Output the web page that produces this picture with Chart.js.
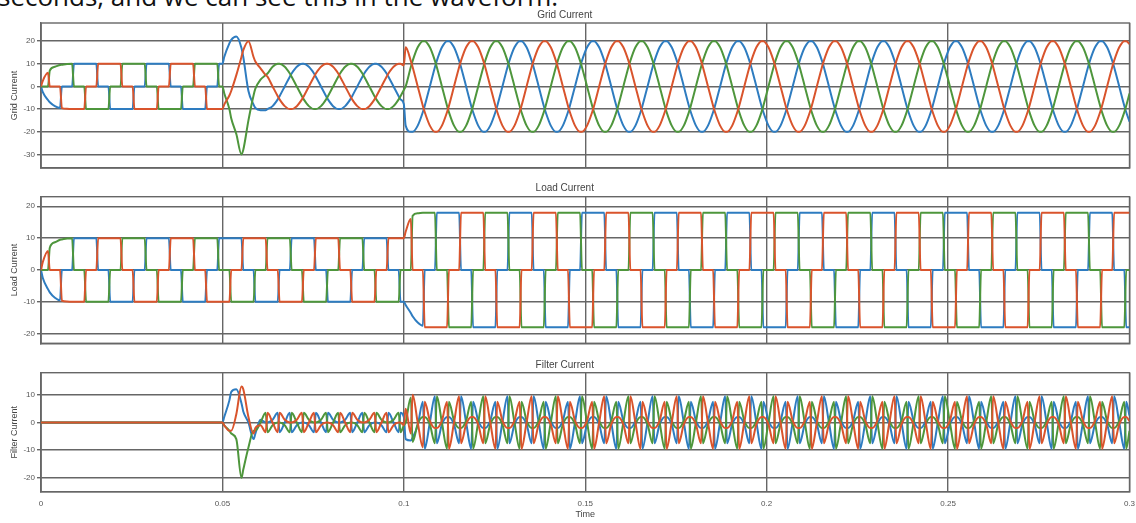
<!DOCTYPE html>
<html><head><meta charset="utf-8">
<script src="https://cdn.jsdelivr.net/npm/chart.js@4.4.1/dist/chart.umd.min.js"></script>
<style>
html,body{margin:0;padding:0;background:#fff;overflow:hidden;width:1136px;height:523px;}
.box{position:absolute;left:0;width:1136px;}
#caption{position:absolute;left:-2px;top:-17px;font-family:'Open Sans',sans-serif;font-size:26px;line-height:26px;color:#111;white-space:nowrap;}
</style></head><body>
<div id="caption">seconds, and we can see this in the waveform.</div>
<div class="box" style="top:0;height:172px"><canvas id="c1"></canvas></div>
<div class="box" style="top:172px;height:176px"><canvas id="c2"></canvas></div>
<div class="box" style="top:348px;height:175px"><canvas id="c3"></canvas></div>
<script>
// ---- axis ticks ----
const xTickValues = [0, 50, 100, 150, 200, 250, 300];           // ms
const xTickLabels = ['0', '0.05', '0.1', '0.15', '0.2', '0.25', '0.3'];
const gridYTicks = [-30, -20, -10, 0, 10, 20];
const loadYTicks = [-20, -10, 0, 10, 20];
const filterYTicks = [-20, -10, 0, 10];

// ---- sample instants (ms) ----
const timeMs = [
0, 0.5,1.92,2.42,3.83,5.25,5.75,7.17,8.58,9.08,10.5,11.92,12.42,13.83,15.25,15.75,17.17,18.58,19.08,
20.5,21.92,22.42,23.83,25.25,25.75,27.17,28.58,29.08,30.5,31.92,32.42,33.83,35.25,35.75,37.17,38.58,39.08,
40.5,41.92,42.42,43.83,45.25,45.75,47.17,48.58,49.08,50,50.5,51.92,52.42,53.83,55.25,55.75,57.17,58.58,59.08,
60.5,61.92,62.42,63.83,65.25,65.75,67.17,68.58,69.08,70.5,71.92,72.42,73.83,75.25,75.75,77.17,78.58,79.08,
80.5,81.92,82.42,83.83,85.25,85.75,87.17,88.58,89.08,90.5,91.92,92.42,93.83,95.25,95.75,97.17,98.58,99.08,100,
100.5,101.92,102.42,103.83,105.25,105.75,107.17,108.58,109.08,110.5,111.92,112.42,113.83,115.25,115.75,117.17,118.58,119.08,
120.5,121.92,122.42,123.83,125.25,125.75,127.17,128.58,129.08,130.5,131.92,132.42,133.83,135.25,135.75,137.17,138.58,139.08,
140.5,141.92,142.42,143.83,145.25,145.75,147.17,148.58,149.08,150.5,151.92,152.42,153.83,155.25,155.75,157.17,158.58,159.08,
160.5,161.92,162.42,163.83,165.25,165.75,167.17,168.58,169.08,170.5,171.92,172.42,173.83,175.25,175.75,177.17,178.58,179.08,
180.5,181.92,182.42,183.83,185.25,185.75,187.17,188.58,189.08,190.5,191.92,192.42,193.83,195.25,195.75,197.17,198.58,199.08,
200.5,201.92,202.42,203.83,205.25,205.75,207.17,208.58,209.08,210.5,211.92,212.42,213.83,215.25,215.75,217.17,218.58,219.08,
220.5,221.92,222.42,223.83,225.25,225.75,227.17,228.58,229.08,230.5,231.92,232.42,233.83,235.25,235.75,237.17,238.58,239.08,
240.5,241.92,242.42,243.83,245.25,245.75,247.17,248.58,249.08,250.5,251.92,252.42,253.83,255.25,255.75,257.17,258.58,259.08,
260.5,261.92,262.42,263.83,265.25,265.75,267.17,268.58,269.08,270.5,271.92,272.42,273.83,275.25,275.75,277.17,278.58,279.08,
280.5,281.92,282.42,283.83,285.25,285.75,287.17,288.58,289.08,290.5,291.92,292.42,293.83,295.25,295.75,297.17,298.58,299.08,300
];

// ---- Grid Current ----
const gridGreen = [
0, 0,0,7,8.7,9.5,9.6,9.9,10,0,0,0,-10,-10,-10,-10,-10,-10,0,
0,0,10,10,10,10,10,10,0,0,0,-10,-10,-10,-10,-10,-10,0,
0,0,10,10,10,10,10,10,0,0,-3,-10,-14,-21,-30,-28,-15,-4,-1,
3,5,5.7,8.7,10,10,8.7,5.7,4.3,0,-4.3,-5.7,-8.7,-10,-10,-8.7,-5.7,-4.3,
0,4.3,5.7,8.7,10,10,8.7,5.7,4.3,0,-4.3,-5.7,-8.7,-10,-10,-8.7,-5.7,-4.3,-1.6,
0,8.6,11.3,17.3,20,20,17.3,11.3,8.6,0,-8.6,-11.3,-17.3,-20,-20,-17.3,-11.3,-8.6,
0,8.6,11.3,17.3,20,20,17.3,11.3,8.6,0,-8.6,-11.3,-17.3,-20,-20,-17.3,-11.3,-8.6,
0,8.6,11.3,17.3,20,20,17.3,11.3,8.6,0,-8.6,-11.3,-17.3,-20,-20,-17.3,-11.3,-8.6,
0,8.6,11.3,17.3,20,20,17.3,11.3,8.6,0,-8.6,-11.3,-17.3,-20,-20,-17.3,-11.3,-8.6,
0,8.6,11.3,17.3,20,20,17.3,11.3,8.6,0,-8.6,-11.3,-17.3,-20,-20,-17.3,-11.3,-8.6,
0,8.6,11.3,17.3,20,20,17.3,11.3,8.6,0,-8.6,-11.3,-17.3,-20,-20,-17.3,-11.3,-8.6,
0,8.6,11.3,17.3,20,20,17.3,11.3,8.6,0,-8.6,-11.3,-17.3,-20,-20,-17.3,-11.3,-8.6,
0,8.6,11.3,17.3,20,20,17.3,11.3,8.6,0,-8.6,-11.3,-17.3,-20,-20,-17.3,-11.3,-8.6,
0,8.6,11.3,17.3,20,20,17.3,11.3,8.6,0,-8.6,-11.3,-17.3,-20,-20,-17.3,-11.3,-8.6,
0,8.6,11.3,17.3,20,20,17.3,11.3,8.6,0,-8.6,-11.3,-17.3,-20,-20,-17.3,-11.3,-8.6,-3.1
];
const gridBlue = [
0, -2.5,-6,-7,-8.7,-9.5,0,0,0,10,10,10,10,10,10,0,0,0,-10,
-10,-10,-10,-10,-10,0,0,0,10,10,10,10,10,10,0,0,0,-10,
-10,-10,-10,-10,-10,0,0,0,10,10,13,19,20.5,22,17,13,-2,-8,-9.5,
-10.5,-10.5,-10,-8.7,-5.7,-4.3,0,4.3,5.7,8.7,10,10,8.7,5.7,4.3,0,-4.3,-5.7,
-8.7,-10,-10,-8.7,-5.7,-4.3,0,4.3,5.7,8.7,10,10,8.7,5.7,4.3,0,-4.3,-5.7,-7.8,
-17.3,-20,-20,-17.3,-11.3,-8.6,0,8.6,11.3,17.3,20,20,17.3,11.3,8.6,0,-8.6,-11.3,
-17.3,-20,-20,-17.3,-11.3,-8.6,0,8.6,11.3,17.3,20,20,17.3,11.3,8.6,0,-8.6,-11.3,
-17.3,-20,-20,-17.3,-11.3,-8.6,0,8.6,11.3,17.3,20,20,17.3,11.3,8.6,0,-8.6,-11.3,
-17.3,-20,-20,-17.3,-11.3,-8.6,0,8.6,11.3,17.3,20,20,17.3,11.3,8.6,0,-8.6,-11.3,
-17.3,-20,-20,-17.3,-11.3,-8.6,0,8.6,11.3,17.3,20,20,17.3,11.3,8.6,0,-8.6,-11.3,
-17.3,-20,-20,-17.3,-11.3,-8.6,0,8.6,11.3,17.3,20,20,17.3,11.3,8.6,0,-8.6,-11.3,
-17.3,-20,-20,-17.3,-11.3,-8.6,0,8.6,11.3,17.3,20,20,17.3,11.3,8.6,0,-8.6,-11.3,
-17.3,-20,-20,-17.3,-11.3,-8.6,0,8.6,11.3,17.3,20,20,17.3,11.3,8.6,0,-8.6,-11.3,
-17.3,-20,-20,-17.3,-11.3,-8.6,0,8.6,11.3,17.3,20,20,17.3,11.3,8.6,0,-8.6,-11.3,
-17.3,-20,-20,-17.3,-11.3,-8.6,0,8.6,11.3,17.3,20,20,17.3,11.3,8.6,0,-8.6,-11.3,-15.5
];
const gridRed = [
0, 2.5,6,0,0,0,-9.6,-9.9,-10,-10,-10,-10,0,0,0,10,10,10,10,
10,10,0,0,0,-10,-10,-10,-10,-10,-10,0,0,0,10,10,10,10,
10,10,0,0,0,-10,-10,-10,-10,-10,-8,-4,-2,5,13,16,20,13,11,
8,5,4.3,0,-4.3,-5.7,-8.7,-10,-10,-8.7,-5.7,-4.3,0,4.3,5.7,8.7,10,10,
8.7,5.7,4.3,0,-4.3,-5.7,-8.7,-10,-10,-8.7,-5.7,-4.3,0,4.3,5.7,8.7,10,10,9.3,
17.3,11.3,8.6,0,-8.6,-11.3,-17.3,-20,-20,-17.3,-11.3,-8.6,0,8.6,11.3,17.3,20,20,
17.3,11.3,8.6,0,-8.6,-11.3,-17.3,-20,-20,-17.3,-11.3,-8.6,0,8.6,11.3,17.3,20,20,
17.3,11.3,8.6,0,-8.6,-11.3,-17.3,-20,-20,-17.3,-11.3,-8.6,0,8.6,11.3,17.3,20,20,
17.3,11.3,8.6,0,-8.6,-11.3,-17.3,-20,-20,-17.3,-11.3,-8.6,0,8.6,11.3,17.3,20,20,
17.3,11.3,8.6,0,-8.6,-11.3,-17.3,-20,-20,-17.3,-11.3,-8.6,0,8.6,11.3,17.3,20,20,
17.3,11.3,8.6,0,-8.6,-11.3,-17.3,-20,-20,-17.3,-11.3,-8.6,0,8.6,11.3,17.3,20,20,
17.3,11.3,8.6,0,-8.6,-11.3,-17.3,-20,-20,-17.3,-11.3,-8.6,0,8.6,11.3,17.3,20,20,
17.3,11.3,8.6,0,-8.6,-11.3,-17.3,-20,-20,-17.3,-11.3,-8.6,0,8.6,11.3,17.3,20,20,
17.3,11.3,8.6,0,-8.6,-11.3,-17.3,-20,-20,-17.3,-11.3,-8.6,0,8.6,11.3,17.3,20,20,
17.3,11.3,8.6,0,-8.6,-11.3,-17.3,-20,-20,-17.3,-11.3,-8.6,0,8.6,11.3,17.3,20,20,18.7
];

// ---- Load Current ----
const loadGreen = [
0, 0,0,7,8.7,9.5,9.6,9.9,10,0,0,0,-10,-10,-10,-10,-10,-10,0,
0,0,10,10,10,10,10,10,0,0,0,-10,-10,-10,-10,-10,-10,0,
0,0,10,10,10,10,10,10,0,0,0,0,-10,-10,-10,-10,-10,-10,0,
0,0,10,10,10,10,10,10,0,0,0,-10,-10,-10,-10,-10,-10,0,
0,0,10,10,10,10,10,10,0,0,0,-10,-10,-10,-10,-10,-10,0,0,
0,0,17,17.8,18,18,18,18,0,0,0,-18,-18,-18,-18,-18,-18,0,
0,0,18,18,18,18,18,18,0,0,0,-18,-18,-18,-18,-18,-18,0,
0,0,18,18,18,18,18,18,0,0,0,-18,-18,-18,-18,-18,-18,0,
0,0,18,18,18,18,18,18,0,0,0,-18,-18,-18,-18,-18,-18,0,
0,0,18,18,18,18,18,18,0,0,0,-18,-18,-18,-18,-18,-18,0,
0,0,18,18,18,18,18,18,0,0,0,-18,-18,-18,-18,-18,-18,0,
0,0,18,18,18,18,18,18,0,0,0,-18,-18,-18,-18,-18,-18,0,
0,0,18,18,18,18,18,18,0,0,0,-18,-18,-18,-18,-18,-18,0,
0,0,18,18,18,18,18,18,0,0,0,-18,-18,-18,-18,-18,-18,0,
0,0,18,18,18,18,18,18,0,0,0,-18,-18,-18,-18,-18,-18,0,0
];
const loadBlue = [
0, -2.5,-6,-7,-8.7,-9.5,0,0,0,10,10,10,10,10,10,0,0,0,-10,
-10,-10,-10,-10,-10,0,0,0,10,10,10,10,10,10,0,0,0,-10,
-10,-10,-10,-10,-10,0,0,0,10,10,10,10,10,10,10,0,0,0,-10,
-10,-10,-10,-10,-10,0,0,0,10,10,10,10,10,10,0,0,0,-10,
-10,-10,-10,-10,-10,0,0,0,10,10,10,10,10,10,0,0,0,-10,-10,
-11,-13.5,-14.5,-16.5,-17.5,0,0,0,18,18,18,18,18,18,0,0,0,-18,
-18,-18,-18,-18,-18,0,0,0,18,18,18,18,18,18,0,0,0,-18,
-18,-18,-18,-18,-18,0,0,0,18,18,18,18,18,18,0,0,0,-18,
-18,-18,-18,-18,-18,0,0,0,18,18,18,18,18,18,0,0,0,-18,
-18,-18,-18,-18,-18,0,0,0,18,18,18,18,18,18,0,0,0,-18,
-18,-18,-18,-18,-18,0,0,0,18,18,18,18,18,18,0,0,0,-18,
-18,-18,-18,-18,-18,0,0,0,18,18,18,18,18,18,0,0,0,-18,
-18,-18,-18,-18,-18,0,0,0,18,18,18,18,18,18,0,0,0,-18,
-18,-18,-18,-18,-18,0,0,0,18,18,18,18,18,18,0,0,0,-18,
-18,-18,-18,-18,-18,0,0,0,18,18,18,18,18,18,0,0,0,-18,-18
];
const loadRed = [
0, 2.5,6,0,0,0,-9.6,-9.9,-10,-10,-10,-10,0,0,0,10,10,10,10,
10,10,0,0,0,-10,-10,-10,-10,-10,-10,0,0,0,10,10,10,10,
10,10,0,0,0,-10,-10,-10,-10,-10,-10,-10,0,0,0,10,10,10,10,
10,10,0,0,0,-10,-10,-10,-10,-10,-10,0,0,0,10,10,10,10,
10,10,0,0,0,-10,-10,-10,-10,-10,-10,0,0,0,10,10,10,10,10,
12,16,0,0,0,-18,-18,-18,-18,-18,-18,0,0,0,18,18,18,18,
18,18,0,0,0,-18,-18,-18,-18,-18,-18,0,0,0,18,18,18,18,
18,18,0,0,0,-18,-18,-18,-18,-18,-18,0,0,0,18,18,18,18,
18,18,0,0,0,-18,-18,-18,-18,-18,-18,0,0,0,18,18,18,18,
18,18,0,0,0,-18,-18,-18,-18,-18,-18,0,0,0,18,18,18,18,
18,18,0,0,0,-18,-18,-18,-18,-18,-18,0,0,0,18,18,18,18,
18,18,0,0,0,-18,-18,-18,-18,-18,-18,0,0,0,18,18,18,18,
18,18,0,0,0,-18,-18,-18,-18,-18,-18,0,0,0,18,18,18,18,
18,18,0,0,0,-18,-18,-18,-18,-18,-18,0,0,0,18,18,18,18,
18,18,0,0,0,-18,-18,-18,-18,-18,-18,0,0,0,18,18,18,18,18
];

// ---- Filter Current ----
const filterGreen = [
0, 0,0,0,0,0,0,0,0,0,0,0,0,0,0,0,0,0,0,
0,0,0,0,0,0,0,0,0,0,0,0,0,0,0,0,0,0,
0,0,0,0,0,0,0,0,0,0,-1,-3,-4,-6,-20,-17,-9,-3,-3,
0,3.5,-3.5,-1,0,0,-1,-3.5,3.5,0,-3.5,3.5,1,0,0,1,3.5,-3.5,
0,3.5,-3.5,-1,0,0,-1,-3.5,3.5,0,-3.5,3.5,1,0,0,1,3.5,-3.5,-1,
0,9,-7,-0.5,2,2,-0.7,-7.5,9.5,0,-9.5,7.5,0.7,-2,-2,0.7,7.5,-9.5,
0,9.5,-7.5,-0.7,2,2,-0.7,-7.5,9.5,0,-9.5,7.5,0.7,-2,-2,0.7,7.5,-9.5,
0,9.5,-7.5,-0.7,2,2,-0.7,-7.5,9.5,0,-9.5,7.5,0.7,-2,-2,0.7,7.5,-9.5,
0,9.5,-7.5,-0.7,2,2,-0.7,-7.5,9.5,0,-9.5,7.5,0.7,-2,-2,0.7,7.5,-9.5,
0,9.5,-7.5,-0.7,2,2,-0.7,-7.5,9.5,0,-9.5,7.5,0.7,-2,-2,0.7,7.5,-9.5,
0,9.5,-7.5,-0.7,2,2,-0.7,-7.5,9.5,0,-9.5,7.5,0.7,-2,-2,0.7,7.5,-9.5,
0,9.5,-7.5,-0.7,2,2,-0.7,-7.5,9.5,0,-9.5,7.5,0.7,-2,-2,0.7,7.5,-9.5,
0,9.5,-7.5,-0.7,2,2,-0.7,-7.5,9.5,0,-9.5,7.5,0.7,-2,-2,0.7,7.5,-9.5,
0,9.5,-7.5,-0.7,2,2,-0.7,-7.5,9.5,0,-9.5,7.5,0.7,-2,-2,0.7,7.5,-9.5,
0,9.5,-7.5,-0.7,2,2,-0.7,-7.5,9.5,0,-9.5,7.5,0.7,-2,-2,0.7,7.5,-9.5,-3
];
const filterBlue = [
0, 0,0,0,0,0,0,0,0,0,0,0,0,0,0,0,0,0,0,
0,0,0,0,0,0,0,0,0,0,0,0,0,0,0,0,0,0,
0,0,0,0,0,0,0,0,0,0,2,8,11,12,7,4,0,-6,-4,
1,0,0,1,3.5,-3.5,0,3.5,-3.5,-1,0,0,-1,-3.5,3.5,0,-3.5,3.5,
1,0,0,1,3.5,-3.5,0,3.5,-3.5,-1,0,0,-1,-3.5,3.5,0,-3.5,3.5,2,
-6,-6.5,-5.5,-1,7.5,-9.5,0,9.5,-7.5,-0.7,2,2,-0.7,-7.5,9.5,0,-9.5,7.5,
0.7,-2,-2,0.7,7.5,-9.5,0,9.5,-7.5,-0.7,2,2,-0.7,-7.5,9.5,0,-9.5,7.5,
0.7,-2,-2,0.7,7.5,-9.5,0,9.5,-7.5,-0.7,2,2,-0.7,-7.5,9.5,0,-9.5,7.5,
0.7,-2,-2,0.7,7.5,-9.5,0,9.5,-7.5,-0.7,2,2,-0.7,-7.5,9.5,0,-9.5,7.5,
0.7,-2,-2,0.7,7.5,-9.5,0,9.5,-7.5,-0.7,2,2,-0.7,-7.5,9.5,0,-9.5,7.5,
0.7,-2,-2,0.7,7.5,-9.5,0,9.5,-7.5,-0.7,2,2,-0.7,-7.5,9.5,0,-9.5,7.5,
0.7,-2,-2,0.7,7.5,-9.5,0,9.5,-7.5,-0.7,2,2,-0.7,-7.5,9.5,0,-9.5,7.5,
0.7,-2,-2,0.7,7.5,-9.5,0,9.5,-7.5,-0.7,2,2,-0.7,-7.5,9.5,0,-9.5,7.5,
0.7,-2,-2,0.7,7.5,-9.5,0,9.5,-7.5,-0.7,2,2,-0.7,-7.5,9.5,0,-9.5,7.5,
0.7,-2,-2,0.7,7.5,-9.5,0,9.5,-7.5,-0.7,2,2,-0.7,-7.5,9.5,0,-9.5,7.5,2.5
];
const filterRed = [
0, 0,0,0,0,0,0,0,0,0,0,0,0,0,0,0,0,0,0,
0,0,0,0,0,0,0,0,0,0,0,0,0,0,0,0,0,0,
0,0,0,0,0,0,0,0,0,0,-1,-3,-3,3,13,12,2,-4,-2,
-1,-3.5,3.5,0,-3.5,3.5,1,0,0,1,3.5,-3.5,0,3.5,-3.5,-1,0,0,
-1,-3.5,3.5,0,-3.5,3.5,1,0,0,1,3.5,-3.5,0,3.5,-3.5,-1,0,0,-1,
5,-4,10,0,-9,7.5,0.7,-2,-2,0.7,7.5,-9.5,0,9.5,-7.5,-0.7,2,2,
-0.7,-7.5,9.5,0,-9.5,7.5,0.7,-2,-2,0.7,7.5,-9.5,0,9.5,-7.5,-0.7,2,2,
-0.7,-7.5,9.5,0,-9.5,7.5,0.7,-2,-2,0.7,7.5,-9.5,0,9.5,-7.5,-0.7,2,2,
-0.7,-7.5,9.5,0,-9.5,7.5,0.7,-2,-2,0.7,7.5,-9.5,0,9.5,-7.5,-0.7,2,2,
-0.7,-7.5,9.5,0,-9.5,7.5,0.7,-2,-2,0.7,7.5,-9.5,0,9.5,-7.5,-0.7,2,2,
-0.7,-7.5,9.5,0,-9.5,7.5,0.7,-2,-2,0.7,7.5,-9.5,0,9.5,-7.5,-0.7,2,2,
-0.7,-7.5,9.5,0,-9.5,7.5,0.7,-2,-2,0.7,7.5,-9.5,0,9.5,-7.5,-0.7,2,2,
-0.7,-7.5,9.5,0,-9.5,7.5,0.7,-2,-2,0.7,7.5,-9.5,0,9.5,-7.5,-0.7,2,2,
-0.7,-7.5,9.5,0,-9.5,7.5,0.7,-2,-2,0.7,7.5,-9.5,0,9.5,-7.5,-0.7,2,2,
-0.7,-7.5,9.5,0,-9.5,7.5,0.7,-2,-2,0.7,7.5,-9.5,0,9.5,-7.5,-0.7,2,2,0.5
];

// ---- styling ----
const FONT = "'Liberation Sans', Arial, sans-serif";
const GRID_COLOR = '#666666';
const COL_BLUE = '#2e7cc0', COL_RED = '#d9542c', COL_GREEN = '#4e963c';

const framePlugin = {
  id: 'frame',
  beforeDatasetsDraw(chart) {
    const {ctx, chartArea: a} = chart;
    ctx.save();
    ctx.strokeStyle = GRID_COLOR;
    ctx.lineWidth = 1.4;
    ctx.strokeRect(a.left, a.top, a.right - a.left, a.bottom - a.top);
    ctx.restore();
  }
};

function series(vals, color, label) {
  if (vals.length !== timeMs.length) throw new Error(label + ' has ' + vals.length + ' values, times ' + timeMs.length);
  return {
    label, data: vals.map((v, i) => ({x: timeMs[i], y: v})),
    borderColor: color, borderWidth: 2, pointRadius: 0, fill: false,
    cubicInterpolationMode: 'monotone', tension: 0.4
  };
}

function makeChart(id, cfg) {
  return new Chart(document.getElementById(id), {
    type: 'line',
    data: { datasets: [
      series(cfg.red, COL_RED, 'Phase C'),
      series(cfg.green, COL_GREEN, 'Phase A'),
      series(cfg.blue, COL_BLUE, 'Phase B')
    ]},
    options: {
      responsive: true, maintainAspectRatio: false, animation: false,
      events: [],
      layout: { padding: { left: 0, right: 6.5, top: 0, bottom: cfg.padBottom } },
      plugins: {
        legend: { display: false }, tooltip: { enabled: false },
        title: { display: true, text: cfg.title, color: '#444',
                 font: { family: FONT, size: 10, weight: 'normal' },
                 padding: { top: cfg.titleTop, bottom: cfg.titleBottom } }
      },
      scales: {
        x: {
          type: 'linear', min: 0, max: 300,
          afterBuildTicks: s => { s.ticks = xTickValues.map(v => ({value: v})); },
          afterFit: s => { s.height = cfg.xHeight; s.paddingLeft = 0; s.paddingRight = 0; },
          grid: { color: GRID_COLOR, lineWidth: 1.4, drawTicks: false },
          border: { color: GRID_COLOR, width: 1.4 },
          ticks: { display: cfg.showX, padding: 7.5, color: '#555', maxRotation: 0, autoSkip: false,
                   font: { family: FONT, size: 8 },
                   callback: (v, i) => xTickLabels[i] },
          title: { display: cfg.showX, text: 'Time', color: '#444',
                   font: { family: FONT, size: 9 }, padding: { top: 0, bottom: 2.6 } }
        },
        y: {
          min: cfg.yMin, max: cfg.yMax,
          afterBuildTicks: s => { s.ticks = cfg.yTicks.map(v => ({value: v})); },
          afterFit: s => { s.width = 41; s.paddingTop = 0; s.paddingBottom = 0; },
          grid: { color: GRID_COLOR, lineWidth: 1.4, tickLength: 4 },
          border: { color: GRID_COLOR, width: 1.4 },
          ticks: { padding: 2, color: '#555', font: { family: FONT, size: 8 },
                   callback: v => String(v) },
          title: { display: true, text: cfg.yTitle, color: '#444',
                   font: { family: FONT, size: 9 }, padding: { top: 9.6, bottom: 0 } }
        }
      }
    },
    plugins: [framePlugin]
  });
}

makeChart('c1', { title: 'Grid Current', yTitle: 'Grid Current', yMin: -36, yMax: 28, yTicks: gridYTicks,
  red: gridRed, green: gridGreen, blue: gridBlue,
  padBottom: 4, titleTop: 9, titleBottom: 2, xHeight: 0, showX: false });
makeChart('c2', { title: 'Load Current', yTitle: 'Load Current', yMin: -23, yMax: 23, yTicks: loadYTicks,
  red: loadRed, green: loadGreen, blue: loadBlue,
  padBottom: 4.7, titleTop: 10, titleBottom: 2.7, xHeight: 0, showX: false });
makeChart('c3', { title: 'Filter Current', yTitle: 'Filter Current', yMin: -25, yMax: 18, yTicks: filterYTicks,
  red: filterRed, green: filterGreen, blue: filterBlue,
  padBottom: 0, titleTop: 11, titleBottom: 1.7, xHeight: 31.3, showX: true });
</script>
</body></html>
